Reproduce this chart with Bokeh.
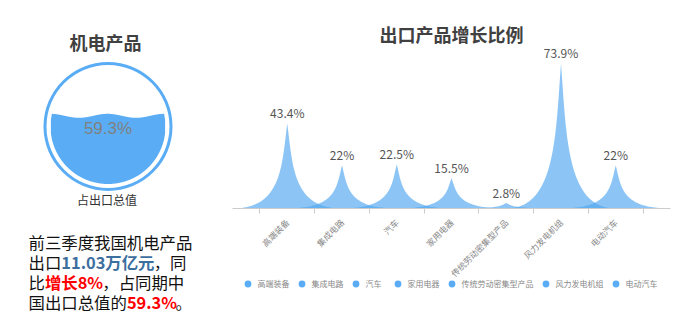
import numpy as np
from math import pi
from bokeh.plotting import figure
from bokeh.models import Range1d, FixedTicker, Label, Legend, LegendItem, LinearAxis
from bokeh.layouts import row
from bokeh.embed import file_html
from bokeh.resources import INLINE
from bokeh.core.properties import value

# ---------------- data ----------------
categories = ["高端装备", "集成电路", "汽车", "家用电器", "传统劳动密集型产品", "风力发电机组", "电动汽车"]
growth = [43.4, 22, 22.5, 15.5, 2.8, 73.9, 22]
growth_labels = ["43.4%", "22%", "22.5%", "15.5%", "2.8%", "73.9%", "22%"]
share_value = 0.593
share_label = "59.3%"
left_title = "机电产品"
right_title = "出口产品增长比例"
caption = "占出口总值"
paragraph = [
    [("前三季度我国机电产品", "n")],
    [("出口", "n"), ("11.03万亿元", "b"), ("，同", "n")],
    [("比", "n"), ("增长8%", "r"), ("，占同期中", "n")],
    [("国出口总值的", "n"), ("59.3%", "r"), ("。", "n")],
]

FONT = "Noto Sans CJK SC"
BLUE = "#5AADF5"
SPIKE = "#4EA6F0"
H = 328

# ---------------- left panel (pixel coordinates) ----------------
left = figure(width=230, height=H, x_range=Range1d(0, 230), y_range=Range1d(H, 0),
              output_backend="svg", toolbar_location=None, min_border=0,
              x_axis_location=None, y_axis_location=None)
left.grid.visible = False
left.outline_line_color = None

left.text(x=[105], y=[41], text=[left_title], text_font=value(FONT), text_font_size="18px",
          text_font_style="bold", text_align="center", text_baseline="middle", text_color="#404040")

cx, cy, r_in = 107.5, 126.0, 57.5
left.annulus(x=[cx], y=[cy], inner_radius=61.5, outer_radius=64.5, fill_color=BLUE, line_color=None)

level = cy + r_in - 2 * r_in * share_value
xs = np.linspace(cx - r_in, cx + r_in, 300)
half = np.sqrt(np.maximum(r_in ** 2 - (xs - cx) ** 2, 0))
wave = level - 2.0 * np.cos(2 * pi * (xs - 50) / 57.0)
top = np.maximum(wave, cy - half)
bot = cy + half
mask = top < bot
px = np.concatenate([xs[mask], xs[mask][::-1]])
py = np.concatenate([top[mask], bot[mask][::-1]])
left.patch(x=px, y=py, fill_color=BLUE, line_color=None)

left.text(x=[cx], y=[128], text=[share_label], text_font=value("Liberation Sans"), text_font_size="17px",
          text_align="center", text_baseline="middle", text_color="#808080")
left.text(x=[106.5], y=[199], text=[caption], text_font=value(FONT), text_font_size="12px",
          text_align="center", text_baseline="middle", text_color="#333333")

FS = 16.4


def char_w(ch):
    if ord(ch) > 0x2E80:
        return FS
    if ch == ".":
        return 4.8
    if ch == "%":
        return 15.0
    return 9.6


styles = {"n": ("#111111", "normal"), "b": ("#3C6E9E", "bold"), "r": ("#FF0000", "bold")}
for li, line in enumerate(paragraph):
    x0 = 28.0
    y0 = 241 + 20 * li
    for txt, st in line:
        col, weight = styles[st]
        left.text(x=[x0], y=[y0], text=[txt], text_font=value(FONT), text_font_size=f"{FS}px",
                  text_font_style=weight, text_align="left", text_baseline="middle", text_color=col)
        x0 += sum(char_w(c) for c in txt)

# ---------------- right panel ----------------
band = 54.75          # px per category
ppu = 1.9625          # px per percent
base_y = 208          # screen y of baseline
x_lo = -1 - 2 / band
x_hi = 7 + 13 / band
right = figure(width=453, height=H, x_range=Range1d(x_lo, x_hi),
               y_range=Range1d(-(H - base_y) / ppu, base_y / ppu),
               output_backend="svg", toolbar_location=None, min_border=0,
               x_axis_location=None, y_axis_location=None)
right.grid.visible = False
right.outline_line_color = None

hw = 1.0


def bez(p0, p1, p2, p3, t):
    return ((1 - t) ** 3 * p0 + 3 * (1 - t) ** 2 * t * p1 + 3 * (1 - t) * t ** 2 * p2 + t ** 3 * p3)


t = np.linspace(0, 1, 60)
spx, spy = [], []
for i, v in enumerate(growth):
    # path: M0,10 L10,10 C5.5,10 5.5,5 5,0 C4.5,5 4.5,10 0,10 z
    u1 = bez(10, 5.5, 5.5, 5, t); w1 = bez(10, 10, 5, 0, t)
    u2 = bez(5, 4.5, 4.5, 0, t); w2 = bez(0, 5, 10, 10, t)
    u = np.concatenate([[0], u1, u2])
    w = np.concatenate([[10], w1, w2])
    spx.append(list(i + (u - 5) / 5 * hw))
    spy.append(list(v * (10 - w) / 10))
right.patches(xs=spx, ys=spy, fill_color=SPIKE, fill_alpha=0.65, line_color=None)

idx = list(range(len(categories)))
right.text(x=idx, y=growth, text=growth_labels, text_font=value(FONT), text_font_size="12px",
           text_align="center", text_baseline="bottom", y_offset=-2, text_color="#555555")

right.add_layout(Label(x=3, y=(base_y - 33) / ppu, text=right_title, text_align="center",
                       text_baseline="middle", text_font=FONT, text_font_size="18px",
                       text_font_style="bold", text_color="#404040"))

ax = LinearAxis(fixed_location=0, bounds=(-1, 7))
ax.ticker = FixedTicker(ticks=idx, minor_ticks=[i - 0.5 for i in range(len(categories) + 1)])
ax.major_label_overrides = {i: c for i, c in enumerate(categories)}
ax.major_label_orientation = pi / 4
ax.major_label_text_font = FONT
ax.major_label_text_font_size = "8.5px"
ax.major_label_text_color = "#888888"
ax.major_label_standoff = 7
ax.major_tick_line_color = None
ax.major_tick_in = 0
ax.major_tick_out = 0
ax.minor_tick_in = 0
ax.minor_tick_out = 5
ax.minor_tick_line_color = "#cccccc"
ax.axis_line_color = "#cccccc"
right.add_layout(ax, "below")

# legend: swatch renderers hold one point placed outside the visible ranges
items = []
for name in categories:
    rr = right.scatter(x=[x_hi + 50], y=[0], marker="circle", size=9, fill_color=BLUE, line_color=None)
    items.append(LegendItem(label=name, renderers=[rr]))
legend = Legend(items=items, orientation="horizontal", location=(8.5, 36.5),
                border_line_color=None, background_fill_alpha=0, padding=0, margin=0,
                spacing=3, label_standoff=2, glyph_width=17, glyph_height=17, label_height=17,
                label_text_font=FONT, label_text_font_size="8px", label_text_color="#888888")
right.add_layout(legend)

layout = row(left, right, spacing=0)
open("out.html", "w").write(file_html(layout, INLINE))
